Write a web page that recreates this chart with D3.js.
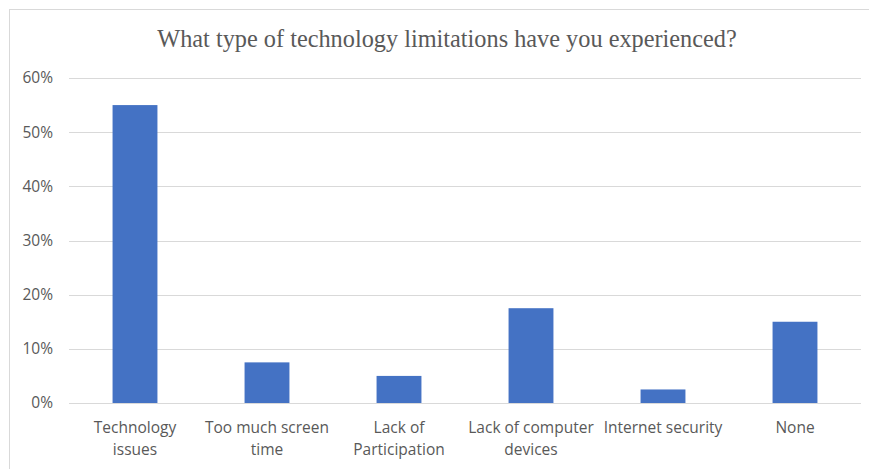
<!DOCTYPE html>
<html>
<head>
<meta charset="utf-8">
<script src="https://cdn.jsdelivr.net/npm/d3@7"></script>
<style>
  html, body { margin: 0; padding: 0; background: #ffffff; }
  svg { display: block; }
</style>
</head>
<body>
<div id="chart"></div>
<script>
// Survey responses: share of respondents per technology limitation
const categories = [
  "Technology\nissues",
  "Too much screen\ntime",
  "Lack of\nParticipation",
  "Lack of computer\ndevices",
  "Internet security",
  "None"
];
const shares = [0.55, 0.075, 0.05, 0.175, 0.025, 0.15];
const yTicks = [0, 0.1, 0.2, 0.3, 0.4, 0.5, 0.6];
const chartTitle = "What type of technology limitations have you experienced?";

const W = 869, H = 469;
const plot = { left: 69, right: 861, top: 78, bottom: 403 };
const labelFont = "'Open Sans', 'Noto Sans', sans-serif";

const svg = d3.select("#chart").append("svg")
  .attr("width", W).attr("height", H);

// chart frame
svg.append("rect")
  .attr("x", 9.5).attr("y", 9.5)
  .attr("width", 890).attr("height", 490)
  .attr("fill", "#ffffff")
  .attr("stroke", "#d9d9d9")
  .attr("stroke-width", 1);

const x = d3.scaleBand()
  .domain(categories)
  .range([plot.left, plot.right])
  .paddingInner(0.66)
  .paddingOuter(0.33);

const y = d3.scaleLinear()
  .domain([0, 0.6])
  .range([plot.bottom, plot.top]);

// horizontal gridlines
svg.append("g")
  .selectAll("line")
  .data(yTicks)
  .join("line")
  .attr("x1", plot.left).attr("x2", plot.right)
  .attr("y1", d => Math.round(y(d)) + 0.5)
  .attr("y2", d => Math.round(y(d)) + 0.5)
  .attr("stroke", "#d9d9d9")
  .attr("stroke-width", 1);

// y axis labels
const yAxis = d3.axisLeft(y)
  .tickValues(yTicks)
  .tickFormat(d3.format(".0%"))
  .tickSize(0)
  .tickPadding(0);

svg.append("g")
  .attr("transform", `translate(53,0)`)
  .call(yAxis)
  .call(g => g.select(".domain").remove())
  .call(g => g.selectAll("text")
    .attr("font-family", labelFont)
    .attr("font-size", "15.5px")
    .attr("fill", "#595959"));

// bars
svg.append("g")
  .selectAll("rect")
  .data(categories.map((c, i) => ({ c, v: shares[i] })))
  .join("rect")
  .attr("x", d => x(d.c))
  .attr("width", x.bandwidth())
  .attr("y", d => y(d.v))
  .attr("height", d => y(0) - y(d.v))
  .attr("fill", "#4472c4");

// category labels (may span two lines)
const xAxis = d3.axisBottom(x).tickSize(0).tickPadding(0);
const gx = svg.append("g")
  .attr("transform", `translate(0,${plot.bottom})`)
  .call(xAxis)
  .call(g => g.select(".domain").remove());

gx.selectAll(".tick text")
  .attr("font-family", labelFont)
  .attr("font-size", "15.5px")
  .attr("fill", "#595959")
  .attr("y", 0)
  .attr("dy", null)
  .text(null)
  .each(function(d) {
    const t = d3.select(this);
    d.split("\n").forEach((line, i) => {
      t.append("tspan")
        .attr("x", 0)
        .attr("y", 30 + i * 21.5)
        .text(line);
    });
  });

// title
svg.append("text")
  .attr("x", 447)
  .attr("y", 47)
  .attr("text-anchor", "middle")
  .attr("font-family", "'Liberation Serif', 'Times New Roman', serif")
  .attr("font-size", "24.3px")
  .attr("fill", "#595959")
  .text(chartTitle);
</script>
</body>
</html>
